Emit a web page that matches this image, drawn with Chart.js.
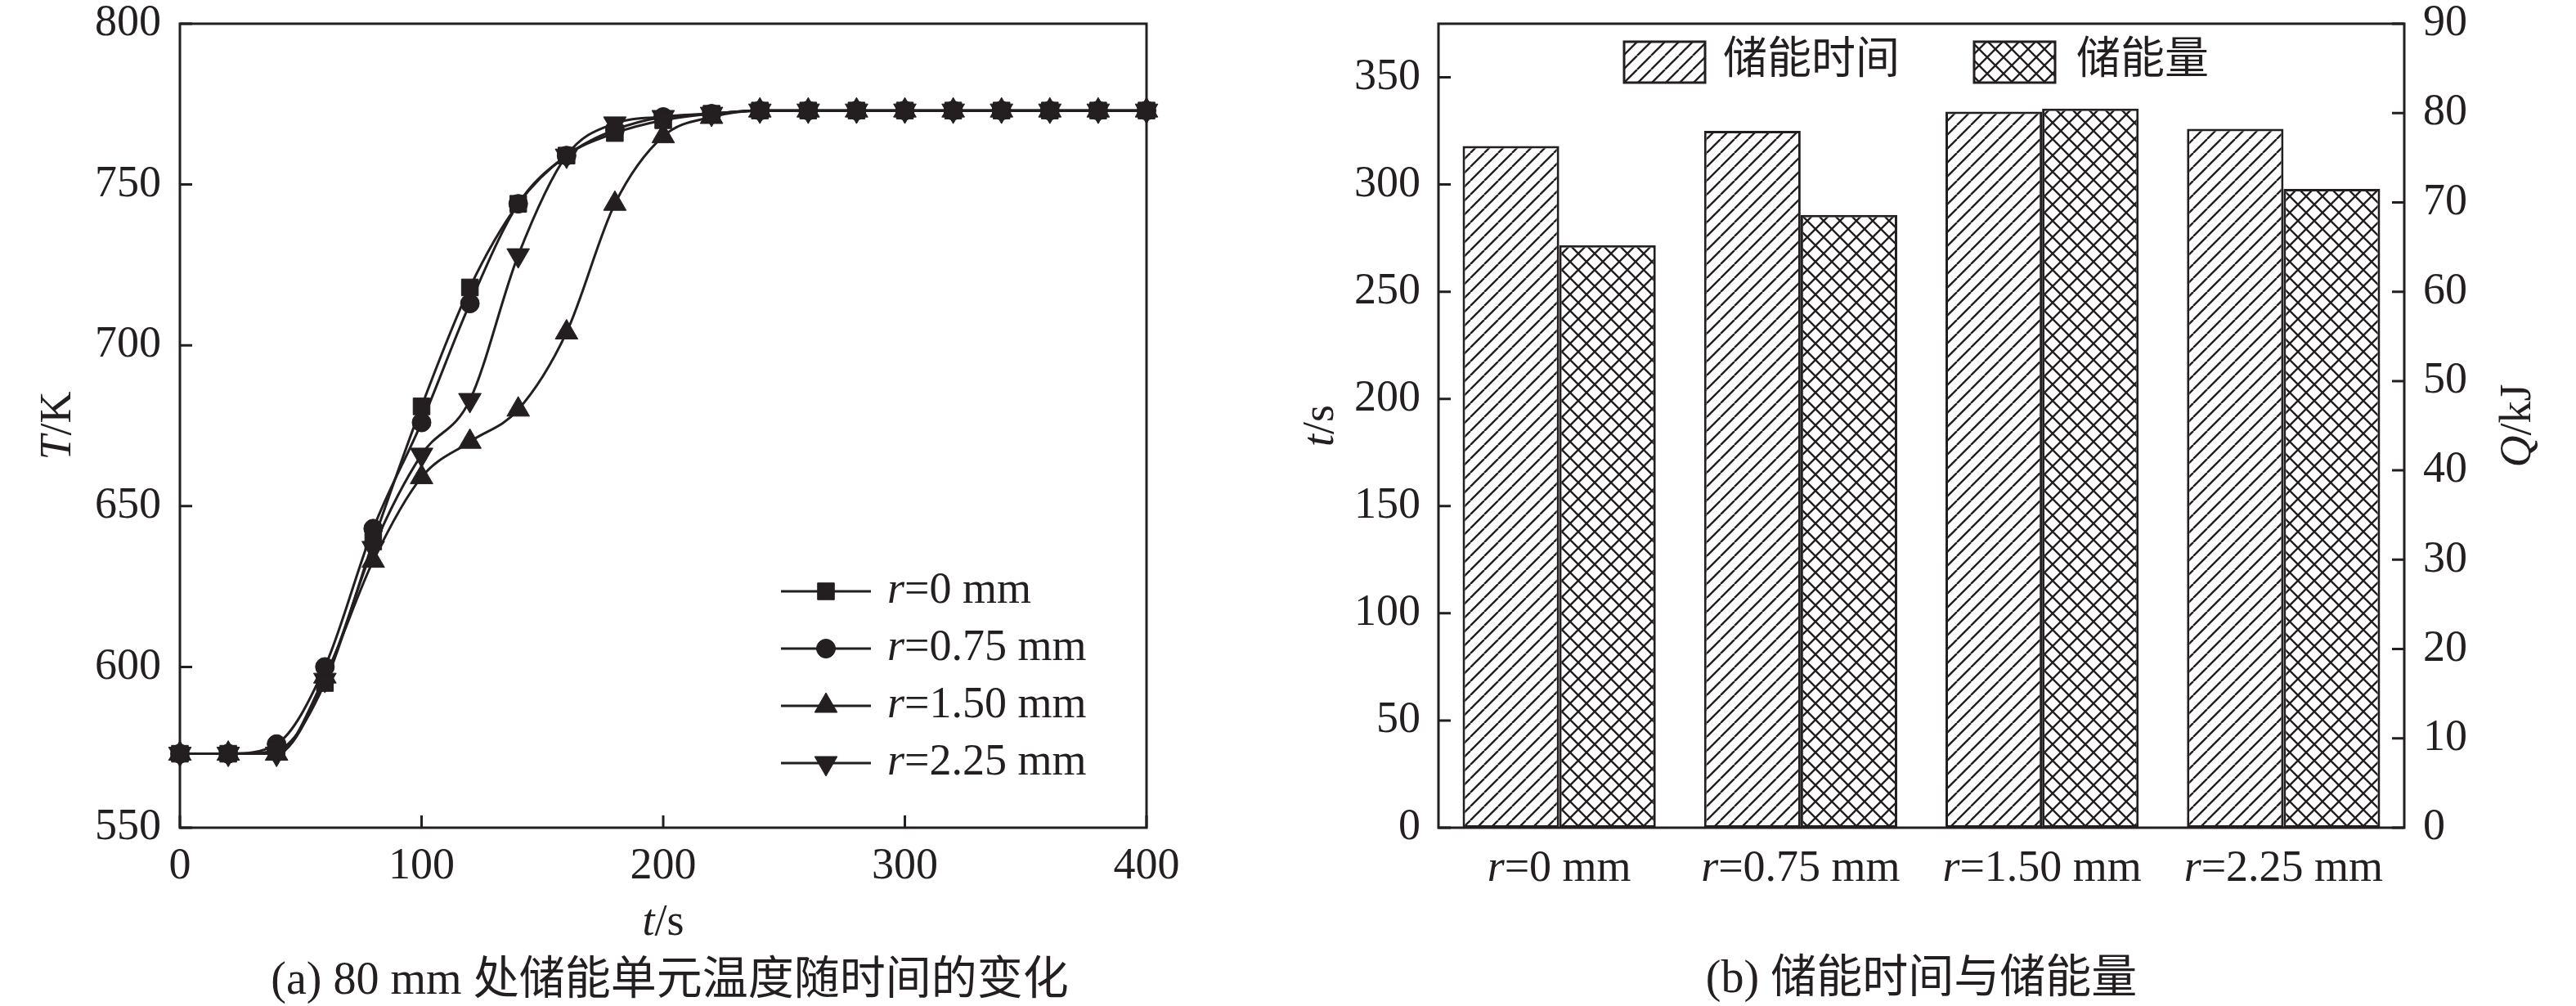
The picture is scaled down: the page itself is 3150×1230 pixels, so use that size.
<!DOCTYPE html>
<html lang="zh">
<head>
    <meta charset="UTF-8">
    <title>储能单元温度与储能量</title>
    <script src="https://cdn.jsdelivr.net/npm/chart.js"></script>
    <style>
        body { margin: 0; background: #fff; width: 3150px; height: 1230px; overflow: hidden; }
        #left { position: absolute; left: 0; top: 0; }
        #right { position: absolute; left: 1560px; top: 0; }
    </style>
</head>
<body>
    <canvas id="left" width="1560" height="1230"></canvas>
    <canvas id="right" width="1590" height="1230"></canvas>

    <script>
        // (a) temperature at 80 mm vs time
        const times = [0, 20, 40, 60, 80, 100, 120, 140, 160, 180, 200, 220, 240, 260, 280, 300, 320, 340, 360, 380, 400];
        const radii = ['0', '0.75', '1.50', '2.25'];
        const tempR0   = [573, 573, 574, 595, 639, 681, 718, 744, 759, 766, 770, 772, 773, 773, 773, 773, 773, 773, 773, 773, 773];
        const tempR075 = [573, 573, 576, 600, 643, 676, 713, 744, 759, 767, 771, 772, 773, 773, 773, 773, 773, 773, 773, 773, 773];
        const tempR150 = [573, 573, 573, 597, 633, 659, 670, 680, 704, 744, 765, 771, 773, 773, 773, 773, 773, 773, 773, 773, 773];
        const tempR225 = [573, 573, 573, 596, 637, 666, 683, 728, 759, 769, 771, 772, 773, 773, 773, 773, 773, 773, 773, 773, 773];
        const timeTicksA = [0, 100, 200, 300, 400];
        const tempTicks = [550, 600, 650, 700, 750, 800];

        // (b) storage time and stored energy
        const barSeries = ['储能时间', '储能量'];
        const storageTime = [318, 325, 334, 326];
        const storageEnergy = [65.2, 68.6, 80.5, 71.5];
        const timeTicksB = [0, 50, 100, 150, 200, 250, 300, 350];
        const energyTicks = [0, 10, 20, 30, 40, 50, 60, 70, 80, 90];

        const captionA = '(a) 80 mm 处储能单元温度随时间的变化';
        const captionB = '(b) 储能时间与储能量';

        const INK = '#231f20';
        const FAM = '"Liberation Serif", "Noto Sans CJK SC", serif';
        const FS = 54;

        function fontOf(italic, size) {
            return (italic ? 'italic ' : '') + size + 'px ' + FAM;
        }

        // text made of [text, italic] parts
        function rich(ctx, parts, x, y, align, size) {
            size = size || FS;
            let w = 0;
            parts.forEach(p => { ctx.font = fontOf(p[1], size); w += ctx.measureText(p[0]).width; });
            let cx = align === 'center' ? x - w / 2 : (align === 'right' ? x - w : x);
            ctx.textAlign = 'left';
            ctx.textBaseline = 'middle';
            ctx.fillStyle = INK;
            parts.forEach(p => {
                ctx.font = fontOf(p[1], size);
                ctx.fillText(p[0], cx, y);
                cx += ctx.measureText(p[0]).width;
            });
        }

        function richUp(ctx, parts, x, y) {
            ctx.save();
            ctx.translate(x, y);
            ctx.rotate(-Math.PI / 2);
            rich(ctx, parts, 0, 0, 'center');
            ctx.restore();
        }

        function rLabel(v) { return [['r', true], ['=' + v + ' mm', false]]; }

        function setTicks(arr) {
            return s => { s.ticks = arr.map(v => ({ value: v })); };
        }

        // fixed axis size, no extra label padding pushed into the layout
        function fixSize(dim, px) {
            return s => {
                s[dim] = px;
                s.paddingTop = 0; s.paddingBottom = 0;
                s.paddingLeft = 0; s.paddingRight = 0;
            };
        }

        function makePattern(cross, size, lw) {
            const c = document.createElement('canvas');
            c.width = size; c.height = size;
            const g = c.getContext('2d');
            g.fillStyle = '#fff';
            g.fillRect(0, 0, size, size);
            g.strokeStyle = INK;
            g.lineWidth = lw;
            g.beginPath();
            for (let k = -1; k <= 1; k++) {
                g.moveTo(k * size, size); g.lineTo(k * size + size, 0);
                if (cross) { g.moveTo(k * size, 0); g.lineTo(k * size + size, size); }
            }
            g.stroke();
            return g.createPattern(c, 'repeat');
        }

        function frame(ctx, a) {
            ctx.save();
            ctx.strokeStyle = INK;
            ctx.lineWidth = 3;
            ctx.strokeRect(a.left, a.top, a.right - a.left, a.bottom - a.top);
            ctx.restore();
        }

        function innerTicks(ctx, scale, side, len) {
            ctx.save();
            ctx.strokeStyle = INK;
            ctx.lineWidth = 3;
            ctx.beginPath();
            scale.ticks.forEach(t => {
                const p = scale.getPixelForValue(t.value);
                if (side === 'bottom') { ctx.moveTo(p, scale.top); ctx.lineTo(p, scale.top - len); }
                if (side === 'left') { ctx.moveTo(scale.right, p); ctx.lineTo(scale.right + len, p); }
                if (side === 'right') { ctx.moveTo(scale.left, p); ctx.lineTo(scale.left - len, p); }
            });
            ctx.stroke();
            ctx.restore();
        }

        function legendMarker(ctx, ds, x, y) {
            ctx.save();
            ctx.fillStyle = INK;
            ctx.strokeStyle = INK;
            ctx.lineWidth = 1;
            Chart.helpers.drawPoint(ctx, {
                pointStyle: ds.pointStyle,
                rotation: ds.pointRotation || 0,
                radius: ds.pointRadius,
                borderWidth: 1
            }, x, y);
            ctx.restore();
        }

        const tickFont = { family: FAM, size: FS, lineHeight: 1 };

        // ---------- (a) line chart ----------
        const markers = [
            { style: 'rect', rot: 0, r: 14.5 },
            { style: 'circle', rot: 0, r: 11.5 },
            { style: 'triangle', rot: 0, r: 16 },
            { style: 'triangle', rot: 180, r: 16 }
        ];
        const tempSeries = [tempR0, tempR075, tempR150, tempR225];

        const lineDecor = {
            id: 'lineDecor',
            beforeDatasetsDraw(chart) {
                const ctx = chart.ctx;
                frame(ctx, chart.chartArea);
                innerTicks(ctx, chart.scales.x, 'bottom', 15);
                innerTicks(ctx, chart.scales.y, 'left', 15);
            },
            afterDraw(chart) {
                const ctx = chart.ctx;
                const a = chart.chartArea;
                const cx = (a.left + a.right) / 2;
                richUp(ctx, [['T', true], ['/K', false]], 72, (a.top + a.bottom) / 2);
                rich(ctx, [['t', true], ['/s', false]], cx, 1129, 'center');
                rich(ctx, [[captionA, false]], cx + 8, 1200, 'center', 56);

                // legend, lower right
                chart.data.datasets.forEach((ds, i) => {
                    const y = 723 + i * 70;
                    ctx.save();
                    ctx.strokeStyle = INK;
                    ctx.lineWidth = 3;
                    ctx.beginPath();
                    ctx.moveTo(955, y); ctx.lineTo(1065, y);
                    ctx.stroke();
                    ctx.restore();
                    legendMarker(ctx, ds, 1010, y);
                    rich(ctx, rLabel(radii[i]), 1085, y, 'left');
                });
            }
        };

        new Chart(document.getElementById('left'), {
            type: 'line',
            data: {
                datasets: tempSeries.map((vals, i) => ({
                    label: 'r=' + radii[i] + ' mm',
                    data: vals.map((v, j) => ({ x: times[j], y: v })),
                    borderColor: INK,
                    backgroundColor: INK,
                    borderWidth: 3,
                    pointStyle: markers[i].style,
                    pointRotation: markers[i].rot,
                    pointRadius: markers[i].r,
                    pointBorderWidth: 1,
                    pointBackgroundColor: INK,
                    pointBorderColor: INK,
                    cubicInterpolationMode: 'monotone',
                    fill: false,
                    clip: false
                }))
            },
            options: {
                responsive: false,
                animation: false,
                devicePixelRatio: 1,
                events: [],
                layout: { padding: { top: 29, right: 158, left: 0, bottom: 0 } },
                plugins: { legend: { display: false }, tooltip: { enabled: false }, title: { display: false } },
                scales: {
                    x: {
                        type: 'linear', min: 0, max: 400,
                        afterBuildTicks: setTicks(timeTicksA),
                        afterFit: fixSize('height', 218),
                        grid: { display: false, drawTicks: false },
                        border: { display: false },
                        ticks: { font: tickFont, color: INK, padding: 21, maxRotation: 0, autoSkip: false }
                    },
                    y: {
                        min: 550, max: 800,
                        afterBuildTicks: setTicks(tempTicks),
                        afterFit: fixSize('width', 220),
                        grid: { display: false, drawTicks: false },
                        border: { display: false },
                        ticks: { font: tickFont, color: INK, padding: 23 }
                    }
                }
            },
            plugins: [lineDecor]
        });

        // ---------- (b) bar chart ----------
        const rightCtx = document.getElementById('right').getContext('2d');
        const hatch = makePattern(false, 17, 2.4);
        const crossHatch = makePattern(true, 20, 2.4);
        const fills = [hatch, crossHatch];

        const barDecor = {
            id: 'barDecor',
            beforeDatasetsDraw(chart) {
                const ctx = chart.ctx;
                innerTicks(ctx, chart.scales.y, 'left', 15);
                innerTicks(ctx, chart.scales.y1, 'right', 15);
            },
            afterDatasetsDraw(chart) {
                frame(chart.ctx, chart.chartArea);
            },
            afterDraw(chart) {
                const ctx = chart.ctx;
                const a = chart.chartArea;
                const xs = chart.scales.x;
                radii.forEach((v, i) => {
                    rich(ctx, rLabel(v), xs.getPixelForValue(i), 1063, 'center');
                });
                richUp(ctx, [['t', true], ['/s', false]], 56, (a.top + a.bottom) / 2);
                richUp(ctx, [['Q', true], ['/kJ', false]], 1520, (a.top + a.bottom) / 2);
                rich(ctx, [[captionB, false]], (a.left + a.right) / 2, 1198, 'center', 56);

                // legend, top centre
                const boxX = [426, 854];
                const textX = [547, 979];
                barSeries.forEach((name, i) => {
                    ctx.save();
                    ctx.fillStyle = fills[i];
                    ctx.fillRect(boxX[i], 51, 99, 50);
                    ctx.strokeStyle = INK;
                    ctx.lineWidth = 3;
                    ctx.strokeRect(boxX[i], 51, 99, 50);
                    ctx.restore();
                    rich(ctx, [[name, false]], textX[i], 76, 'left');
                });
            }
        };

        new Chart(rightCtx, {
            type: 'bar',
            data: {
                labels: radii.map(v => 'r=' + v + ' mm'),
                datasets: [{
                    label: barSeries[0],
                    data: storageTime,
                    yAxisID: 'y',
                    backgroundColor: hatch,
                    borderColor: INK,
                    borderWidth: 3,
                    borderSkipped: false
                }, {
                    label: barSeries[1],
                    data: storageEnergy,
                    yAxisID: 'y1',
                    backgroundColor: crossHatch,
                    borderColor: INK,
                    borderWidth: 3,
                    borderSkipped: false
                }]
            },
            options: {
                responsive: false,
                animation: false,
                devicePixelRatio: 1,
                events: [],
                layout: { padding: { top: 29, right: 0, left: 0, bottom: 0 } },
                datasets: { bar: { categoryPercentage: 0.8, barPercentage: 1.0 } },
                plugins: { legend: { display: false }, tooltip: { enabled: false }, title: { display: false } },
                scales: {
                    x: {
                        type: 'category',
                        offset: true,
                        afterFit: fixSize('height', 218),
                        grid: { display: false, drawTicks: false },
                        border: { display: false },
                        ticks: { display: false }
                    },
                    y: {
                        position: 'left',
                        min: 0, max: 375,
                        afterBuildTicks: setTicks(timeTicksB),
                        afterFit: fixSize('width', 199),
                        grid: { display: false, drawTicks: false },
                        border: { display: false },
                        ticks: { font: tickFont, color: INK, padding: 22 }
                    },
                    y1: {
                        position: 'right',
                        min: 0, max: 90,
                        afterBuildTicks: setTicks(energyTicks),
                        afterFit: fixSize('width', 210),
                        grid: { display: false, drawTicks: false, drawOnChartArea: false },
                        border: { display: false },
                        ticks: { font: tickFont, color: INK, padding: 23 }
                    }
                }
            },
            plugins: [barDecor]
        });
    </script>
</body>
</html>
